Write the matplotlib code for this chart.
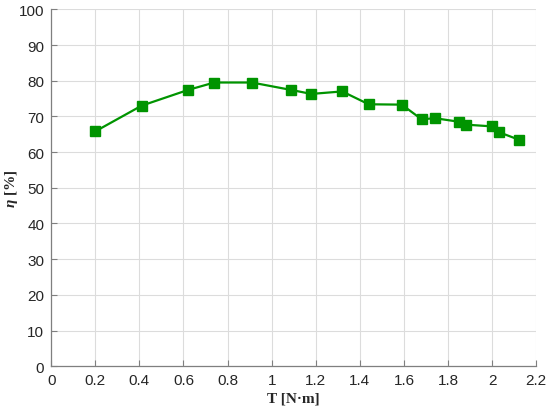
import matplotlib.pyplot as plt

# torque [N·m] and efficiency [%]
torque = [0.20, 0.41, 0.62, 0.74, 0.91, 1.09, 1.18, 1.32, 1.44, 1.59,
          1.68, 1.74, 1.85, 1.88, 2.00, 2.03, 2.12]
efficiency = [65.8, 73.0, 77.4, 79.5, 79.5, 77.4, 76.3, 77.0, 73.4, 73.3,
              69.2, 69.5, 68.5, 67.7, 67.2, 65.6, 63.5]

x_ticks = [0, 0.2, 0.4, 0.6, 0.8, 1, 1.2, 1.4, 1.6, 1.8, 2, 2.2]
x_labels = ['0', '0.2', '0.4', '0.6', '0.8', '1', '1.2', '1.4', '1.6', '1.8', '2', '2.2']
y_ticks = list(range(0, 101, 10))

plt.rcParams['font.family'] = ['Liberation Sans', 'DejaVu Sans']
plt.rcParams['mathtext.fontset'] = 'custom'
plt.rcParams['mathtext.bfit'] = 'Liberation Serif:bold:italic'

fig = plt.figure(figsize=(5.5, 4.14), dpi=100)
ax = fig.add_axes([0.093, 0.113, 0.882, 0.862])

ax.plot(torque, efficiency, color='#009400', linewidth=1.6,
        marker='s', markersize=6.5, markerfacecolor='#009400',
        markeredgecolor='#009400', zorder=3)

ax.set_xlim(0, 2.2)
ax.set_ylim(0, 100)
ax.set_xticks(x_ticks)
ax.set_xticklabels(x_labels)
ax.set_yticks(y_ticks)

ax.grid(True, color='#dcdcdc', linewidth=0.8)
ax.set_axisbelow(True)
for side in ['top', 'right']:
    ax.spines[side].set_visible(False)
for side in ['left', 'bottom']:
    ax.spines[side].set_color('#7f7f7f')
    ax.spines[side].set_linewidth(0.9)

ax.tick_params(direction='in', length=4, colors='#7f7f7f', labelcolor='#262626',
               labelsize=11, pad=5)

ax.set_xlabel('T [N·m]', family='Liberation Serif', fontweight='bold',
              fontsize=11, color='#262626', labelpad=3)
ax.set_ylabel(r'$\boldsymbol{\eta}$ [%]', family='Liberation Serif', fontweight='bold',
              fontsize=11, color='#262626')
ax.yaxis.set_label_coords(-0.064, 0.5)

fig.savefig('out.png', dpi=100)
